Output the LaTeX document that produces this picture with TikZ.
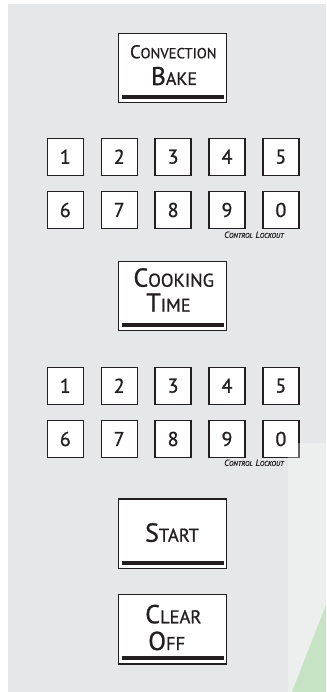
\documentclass[tikz,border=0pt]{standalone}
\usepackage{fontspec}
\setmainfont{PT Sans}[FakeBold=0.9]
\usetikzlibrary{calc}
\definecolor{panel}{HTML}{E6E7E8}
\definecolor{ink}{HTML}{231F20}
\definecolor{leaf}{HTML}{C6E4C4}
\newcommand\fsc[4]{{\fontsize{#1}{#1}\selectfont #3}{\fontsize{#2}{#2}\selectfont #4}}
\tikzset{
  bigbox/.style={draw=ink, fill=white, line width=1.3pt, minimum width=108.4pt, minimum height=69.4pt, inner sep=0pt},
  keybox/.style={draw=ink, fill=white, line width=1.3pt, minimum width=36pt, minimum height=37pt, inner sep=0pt, text=ink, font=\fontsize{20}{20}\selectfont},
  lbl/.style={anchor=base, inner sep=0pt, text=ink},
  lock/.style={anchor=base, inner sep=0pt, text=ink, font=\itshape},
}
\newcommand\boxbar[1]{\fill[ink] ($(#1.south west)+(4,-4.4)$) rectangle ($(#1.south east)+(-3,-8.4)$);}
\begin{document}
\begin{tikzpicture}[x=1pt,y=-1pt]
\useasboundingbox (0,0) rectangle (326,692);
\fill[white] (0,0) rectangle (326,692);
\fill[panel] (8,4) rectangle (326,692);
% Convection Bake
\node[bigbox] (cb) at (172.5,68) {};
\boxbar{cb}
\node[lbl] (cbt1) at (173.3,58.3) {\fsc{18.5}{14.6}{C}{ONVECTION}};
\node[lbl] (cbt2) at (174,85) {\fsc{25.5}{18}{B}{AKE}};
% keypad 1
\foreach \d [count=\i from 0] in {1,2,3,4,5} {
  \node[keybox] (ka\d) at (65.3+53.9*\i,156.7) {\d};
}
\foreach \d [count=\i from 0] in {6,7,8,9,0} {
  \node[keybox] (kb\d) at (65.3+53.9*\i,210) {\d};
}
\node[lock] (cl1) at (254,237.8) {\fsc{8.8}{6.8}{C}{ONTROL} \fsc{8.8}{6.8}{L}{OCKOUT}};
% Cooking Time
\node[bigbox] (ct) at (172.5,296) {};
\boxbar{ct}
\node[lbl] (ctt1) at (173.7,286.7) {\fsc{26}{18.5}{C}{OOKING}};
\node[lbl] (ctt2) at (168.5,311.7) {\fsc{26}{18.5}{T}{IME}};
% keypad 2
\foreach \d [count=\i from 0] in {1,2,3,4,5} {
  \node[keybox] (kc\d) at (65.3+53.9*\i,385.7) {\d};
}
\foreach \d [count=\i from 0] in {6,7,8,9,0} {
  \node[keybox] (kd\d) at (65.3+53.9*\i,439) {\d};
}
\node[lock] (cl2) at (254,465.8) {\fsc{8.8}{6.8}{C}{ONTROL} \fsc{8.8}{6.8}{L}{OCKOUT}};
% Start
\node[bigbox] (st) at (172.5,533.7) {};
\boxbar{st}
\node[lbl] (stt) at (172,541.7) {\fsc{26}{18.5}{S}{TART}};
% Clear Off
\node[bigbox] (co) at (172.5,629.2) {};
\boxbar{co}
\node[lbl] (cot1) at (173.3,623.3) {\fsc{26}{18.5}{C}{LEAR}};
\node[lbl] (cot2) at (166.7,650) {\fsc{26}{18.5}{O}{FF}};
% lighter overlay and green corner
\fill[white, opacity=0.3] (288,443) rectangle (326,692);
\fill[leaf] (292,692) -- (326,605) -- (326,692) -- cycle;
\end{tikzpicture}
\end{document}
